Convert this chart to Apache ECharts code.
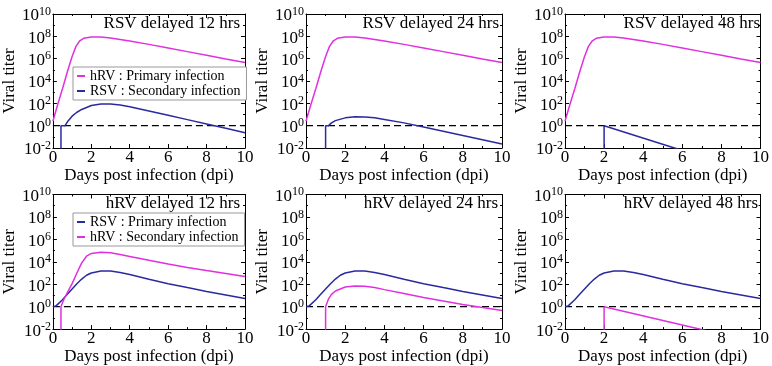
<!DOCTYPE html>
<html><head><meta charset="utf-8">
<script src="https://cdn.jsdelivr.net/npm/echarts@6/dist/echarts.min.js"></script>
<style>html,body{margin:0;padding:0;background:#fff}#c{width:772px;height:366px}</style>
</head><body><div id="c"></div>
<script>
// ---- text ----
const panelTitles = ['RSV delayed 12 hrs', 'RSV delayed 24 hrs', 'RSV delayed 48 hrs',
                     'hRV delayed 12 hrs', 'hRV delayed 24 hrs', 'hRV delayed 48 hrs'];
const xAxisName = 'Days post infection (dpi)';
const yAxisName = 'Viral titer';
const topLegend = ['hRV : Primary infection', 'RSV : Secondary infection'];
const bottomLegend = ['RSV : Primary infection', 'hRV : Secondary infection'];

// ---- data: days post infection / log10 viral titer ----
const detectionLimitLog = 0;

// top row: hRV primary (same in all three panels)
const hrvPrimaryX   = [0, 0.25, 0.5, 0.75, 1.0, 1.2, 1.4, 1.6, 2.0, 2.5, 3.0, 3.5, 4, 5, 6, 7, 8, 9, 10];
const hrvPrimaryLog = [0.4, 1.9, 3.3, 4.8, 6.2, 7.1, 7.6, 7.82, 7.95, 7.95, 7.85, 7.72, 7.58, 7.28, 6.96, 6.63, 6.3, 5.97, 5.65];

// RSV secondary, delayed 12 h
const rsvSec12X   = [0.42, 0.42, 0.63, 0.8, 1.0, 1.25, 1.5, 2.0, 2.5, 3.0, 3.5, 4, 5, 6, 7, 8, 9, 10];
const rsvSec12Log = [-8, 0, 0, 0.45, 0.85, 1.2, 1.45, 1.8, 1.95, 1.95, 1.85, 1.7, 1.32, 0.93, 0.54, 0.15, -0.24, -0.63];
// RSV secondary, delayed 24 h
const rsvSec24X   = [1.0, 1.0, 1.15, 1.3, 1.5, 2.0, 2.5, 3.0, 3.5, 4, 5, 6, 7, 8, 9, 10];
const rsvSec24Log = [-8, 0, 0, 0.25, 0.45, 0.7, 0.8, 0.78, 0.7, 0.56, 0.25, -0.12, -0.5, -0.88, -1.26, -1.64];
// RSV secondary, delayed 48 h
const rsvSec48X   = [2.0, 2.0, 5.6, 10];
const rsvSec48Log = [-8, 0, -2, -4.45];

// bottom row: RSV primary (same in all three panels)
const rsvPrimaryX   = [0, 0.15, 0.5, 0.75, 1.0, 1.25, 1.5, 1.75, 2.0, 2.5, 3.0, 3.5, 4, 5, 6, 7, 8, 9, 10];
const rsvPrimaryLog = [0, 0.05, 0.62, 1.1, 1.58, 2.05, 2.46, 2.8, 3.0, 3.18, 3.17, 3.05, 2.87, 2.45, 2.05, 1.7, 1.36, 1.05, 0.73];

// hRV secondary, delayed 12 h
const hrvSec12X   = [0.42, 0.42, 0.5, 0.6, 0.8, 1.0, 1.25, 1.5, 1.75, 2.0, 2.5, 3.0, 3.5, 4, 5, 6, 7, 8, 9, 10];
const hrvSec12Log = [-8, 0, 0.35, 0.75, 1.4, 2.05, 3.0, 3.9, 4.5, 4.75, 4.85, 4.8, 4.65, 4.48, 4.13, 3.8, 3.5, 3.22, 2.95, 2.68];
// hRV secondary, delayed 24 h
const hrvSec24X   = [1.0, 1.0, 1.15, 1.3, 1.5, 2.0, 2.5, 3.0, 3.5, 4, 5, 6, 7, 8, 9, 10];
const hrvSec24Log = [-8, 0, 0.7, 1.1, 1.4, 1.75, 1.85, 1.82, 1.7, 1.52, 1.17, 0.82, 0.5, 0.2, -0.08, -0.35];
// hRV secondary, delayed 48 h
const hrvSec48X   = [2.0, 2.0, 6.87, 10];
const hrvSec48Log = [-8, 0, -2, -3.3];

// ---- build ----
const MAG = '#e030e0', BLU = '#2a2aa0';
const FONT = 'Liberation Serif';
const pair = (xs, ys) => xs.map((x, i) => [x, ys[i]]);

const panels = [
  {prim: ['hRV : Primary infection', hrvPrimaryX, hrvPrimaryLog, MAG], sec: ['RSV : Secondary infection', rsvSec12X, rsvSec12Log, BLU]},
  {prim: ['hRV : Primary infection', hrvPrimaryX, hrvPrimaryLog, MAG], sec: ['RSV : Secondary infection', rsvSec24X, rsvSec24Log, BLU]},
  {prim: ['hRV : Primary infection', hrvPrimaryX, hrvPrimaryLog, MAG], sec: ['RSV : Secondary infection', rsvSec48X, rsvSec48Log, BLU]},
  {prim: ['RSV : Primary infection', rsvPrimaryX, rsvPrimaryLog, BLU], sec: ['hRV : Secondary infection', hrvSec12X, hrvSec12Log, MAG]},
  {prim: ['RSV : Primary infection', rsvPrimaryX, rsvPrimaryLog, BLU], sec: ['hRV : Secondary infection', hrvSec24X, hrvSec24Log, MAG]},
  {prim: ['RSV : Primary infection', rsvPrimaryX, rsvPrimaryLog, BLU], sec: ['hRV : Secondary infection', hrvSec48X, hrvSec48Log, MAG]}
];

const lefts = [49, 306, 565];
const tops = [14, 194.5];
const heights = [134, 136];
const grids = [], xAxes = [], yAxes = [], series = [], titles = [];
const titleRight = [532, 273, 12, 532, 274, 14];

panels.forEach((p, i) => {
  const r = Math.floor(i / 3), c = i % 3;
  grids.push({left: lefts[c], top: tops[r], width: 196, height: heights[r], containLabel: false});
  const tickStyle = {show: true, inside: true, length: 4, lineStyle: {color: '#000', width: 1}};
  const minor = {show: true, splitNumber: 2, length: 2, lineStyle: {color: '#000', width: 1}};
  const line = {show: true, onZero: false, lineStyle: {color: '#000', width: 1}};
  xAxes.push({
    type: 'value', gridIndex: i, min: 0, max: 10, interval: 2, position: 'bottom',
    axisLine: line, axisTick: tickStyle, minorTick: minor, splitLine: {show: false},
    axisLabel: {margin: 1, color: '#000', fontFamily: FONT, fontSize: 17},
    name: xAxisName, nameLocation: 'middle', nameGap: r === 0 ? 15 : 16,
    nameTextStyle: {color: '#000', fontFamily: FONT, fontSize: 17}
  });
  xAxes.push({
    type: 'value', gridIndex: i, min: 0, max: 10, interval: 2, position: 'top',
    axisLine: line, axisTick: tickStyle, minorTick: minor, splitLine: {show: false},
    axisLabel: {show: false}
  });
  yAxes.push({
    type: 'value', gridIndex: i, min: -2, max: 10, interval: 2, position: 'left',
    axisLine: line, axisTick: tickStyle, minorTick: minor, splitLine: {show: false},
    axisLabel: {
      margin: 2, color: '#000',
      formatter: v => '{b|10}{s|' + v + '}',
      rich: {
        b: {fontFamily: FONT, fontSize: 17, color: '#000', lineHeight: 17, padding: [4, 0, 0, 0]},
        s: {fontFamily: FONT, fontSize: 12, color: '#000', lineHeight: 12, verticalAlign: 'top'}
      }
    },
    name: yAxisName, nameLocation: 'middle', nameGap: 31, nameRotate: 90,
    nameTextStyle: {color: '#000', fontFamily: FONT, fontSize: 17}
  });
  yAxes.push({
    type: 'value', gridIndex: i, min: -2, max: 10, interval: 2, position: 'right',
    axisLine: line, axisTick: tickStyle, minorTick: minor, splitLine: {show: false},
    axisLabel: {show: false}
  });
  const xi = 2 * i, yi = 2 * i;
  series.push({
    type: 'line', xAxisIndex: xi, yAxisIndex: yi, name: 'limit' + i, silent: true,
    data: [[0, detectionLimitLog], [10, detectionLimitLog]], showSymbol: false, symbol: 'none',
    lineStyle: {color: '#000', width: 1.2, type: [7, 4]}, z: 1
  });
  [p.prim, p.sec].forEach(s => {
    series.push({
      type: 'line', xAxisIndex: xi, yAxisIndex: yi, name: s[0], data: pair(s[1], s[2]),
      showSymbol: false, symbol: 'none', clip: true, smooth: false,
      color: s[3], lineStyle: {color: s[3], width: 1.5}, z: 3
    });
  });
  titles.push({
    text: panelTitles[i], right: titleRight[i], top: r === 0 ? 15 : 195, padding: 0,
    textStyle: {fontFamily: FONT, fontSize: 17, fontWeight: 'normal', color: '#000'}
  });
});

const legendBase = {
  orient: 'vertical', icon: 'rect', itemWidth: 8, itemHeight: 2, itemGap: 1,
  padding: [2, 6, 2, 4], backgroundColor: '#fff', borderColor: '#999', borderWidth: 1,
  textStyle: {fontFamily: FONT, fontSize: 14, color: '#000', lineHeight: 14}, selectedMode: false
};

const chart = echarts.init(document.getElementById('c'), null, {renderer: 'canvas'});
chart.setOption({
  animation: false,
  backgroundColor: '#fff',
  title: titles,
  legend: [
    Object.assign({}, legendBase, {data: topLegend, left: 73, top: 67}),
    Object.assign({}, legendBase, {data: bottomLegend, left: 73, top: 213})
  ],
  grid: grids, xAxis: xAxes, yAxis: yAxes, series: series
});
</script></body></html>
